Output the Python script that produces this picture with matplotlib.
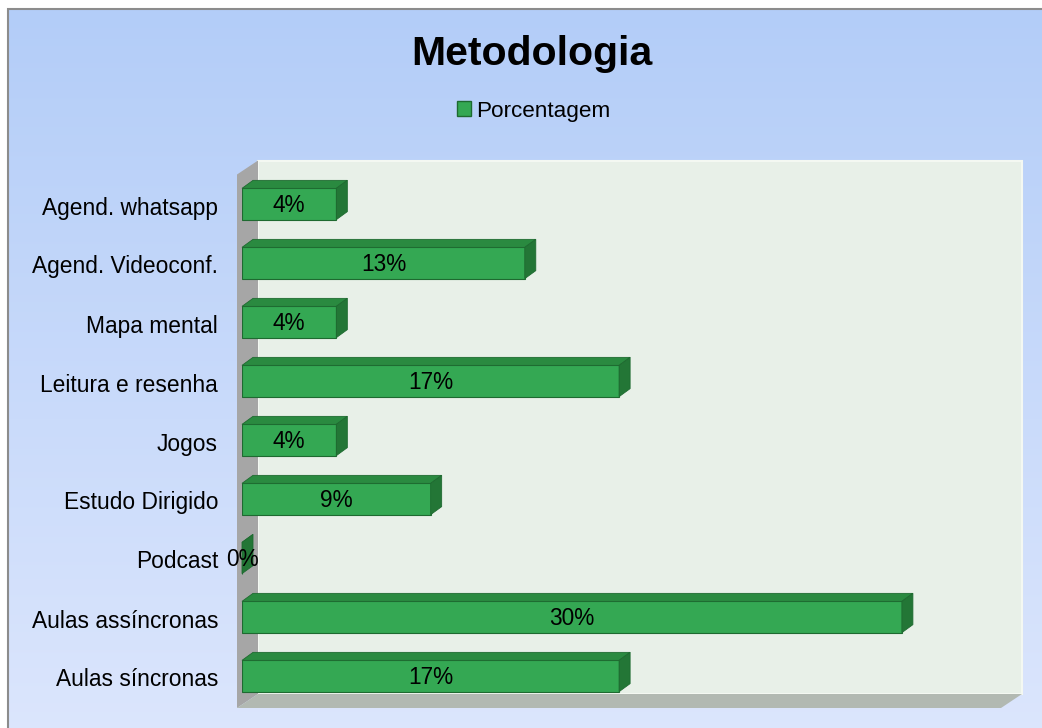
import numpy as np
import matplotlib.pyplot as plt
from matplotlib.patches import Polygon, Rectangle, Patch

# data (share of 23 answers, in %)
categorias = ["Agend. whatsapp", "Agend. Videoconf.", "Mapa mental",
              "Leitura e resenha", "Jogos", "Estudo Dirigido", "Podcast",
              "Aulas assíncronas", "Aulas síncronas"]
porcentagem = [4.35, 13.04, 4.35, 17.39, 4.35, 8.70, 0.0, 30.43, 17.39]
rotulos = ["4%", "13%", "4%", "17%", "4%", "9%", "0%", "30%", "17%"]
serie = "Porcentagem"
titulo = "Metodologia"

plt.rcParams['font.family'] = ['Liberation Sans', 'DejaVu Sans']

W, H = 1042, 728
fig = plt.figure(figsize=(W / 100, H / 100), dpi=100)
fig.patch.set_facecolor("white")

# background gradient inside the frame
bg = fig.add_axes([8 / W, 0, 1 - 8 / W, 1 - 9 / H], zorder=-10)
grad = np.linspace(0, 1, 256).reshape(-1, 1)
c_top = np.array([0.702, 0.804, 0.973])
c_bot = np.array([0.86, 0.90, 0.99])
img = c_top + (c_bot - c_top) * grad[:, :, None]
bg.imshow(img, aspect="auto", extent=[0, 1, 0, 1])
bg.axis("off")
fig.patches.append(Rectangle((8 / W, -0.05), 1.2, 1 - 9 / H + 0.05,
                             transform=fig.transFigure, fill=False,
                             edgecolor="#8c8c8c", linewidth=1.5))

# plot area (front plane)
X_MAX = 35
ax_left, ax_w = 242, 759
ax_top, ax_h = 174.5, 531
ax = fig.add_axes([ax_left / W, (H - ax_top - ax_h) / H, ax_w / W, ax_h / H])
ax.set_xlim(0, X_MAX)
ax.set_ylim(len(categorias) - 0.5, -0.5)
ax.axis("off")
ax.patch.set_visible(False)

px_x = X_MAX / ax_w
px_y = len(categorias) / ax_h

# walls
wdx, wdy = 21 * px_x, 14 * px_y
x0, x1 = -5 * px_x, X_MAX
ytop, ybot = -0.5, len(categorias) - 0.5 + 2.5 * px_y
ax.add_patch(Polygon([(x0 + wdx, ytop - wdy), (x1 + wdx, ytop - wdy),
                      (x1 + wdx, ybot - wdy), (x0 + wdx, ybot - wdy)],
                     closed=True, facecolor="#e8f0e8", edgecolor="#f4f8f2",
                     linewidth=1.5, clip_on=False, zorder=1))
ax.add_patch(Polygon([(x0, ytop), (x0 + wdx, ytop - wdy),
                      (x0 + wdx, ybot - wdy), (x0, ybot)],
                     closed=True, facecolor="#a6a6a6", edgecolor="none",
                     clip_on=False, zorder=1))
ax.add_patch(Polygon([(x0, ybot), (x1, ybot), (x1 + wdx, ybot - wdy),
                      (x0 + wdx, ybot - wdy)],
                     closed=True, facecolor="#b2b9b2", edgecolor="none",
                     clip_on=False, zorder=1))

# 3D bars
front, top, side, edge = "#34a853", "#2a8a40", "#237636", "#1e6a30"
bdx, bdy = 11 * px_x, 8 * px_y
h = 0.53
ypos = np.arange(len(categorias))
ax.barh(ypos, porcentagem, height=h, color=front, edgecolor=edge,
        linewidth=0.8, zorder=3)
for y, v, lab in zip(ypos, porcentagem, rotulos):
    yt, yb = y - h / 2, y + h / 2
    ax.add_patch(Polygon([(0, yt), (v, yt), (v + bdx, yt - bdy), (bdx, yt - bdy)],
                         closed=True, facecolor=top, edgecolor=edge,
                         linewidth=0.6, clip_on=False, zorder=3))
    ax.add_patch(Polygon([(v, yt), (v + bdx, yt - bdy), (v + bdx, yb - bdy), (v, yb)],
                         closed=True, facecolor=side, edgecolor=edge,
                         linewidth=0.6, clip_on=False, zorder=3))
    ax.text(v / 2, y + 1.5 * px_y, lab, ha="center", va="center", fontsize=16.3,
            color="black", zorder=5, clip_on=False)

# category labels
for y, c in zip(ypos, categorias):
    ax.text(-24 * px_x, y + 4 * px_y, c, ha="right", va="center",
            fontsize=16.4, color="black", clip_on=False)

# title and legend
fig.text(532 / W, 1 - 65 / H, titulo, ha="center", va="baseline",
         fontsize=29.5, fontweight="bold")
fig.legend(handles=[Patch(facecolor=front, edgecolor=edge, label=serie)],
           loc="center", bbox_to_anchor=(534 / W, 1 - 111 / H),
           frameon=False, fontsize=16.2, handlelength=0.6, handleheight=0.6,
           handletextpad=0.25, borderpad=0)

fig.savefig("out.png", dpi=100)
